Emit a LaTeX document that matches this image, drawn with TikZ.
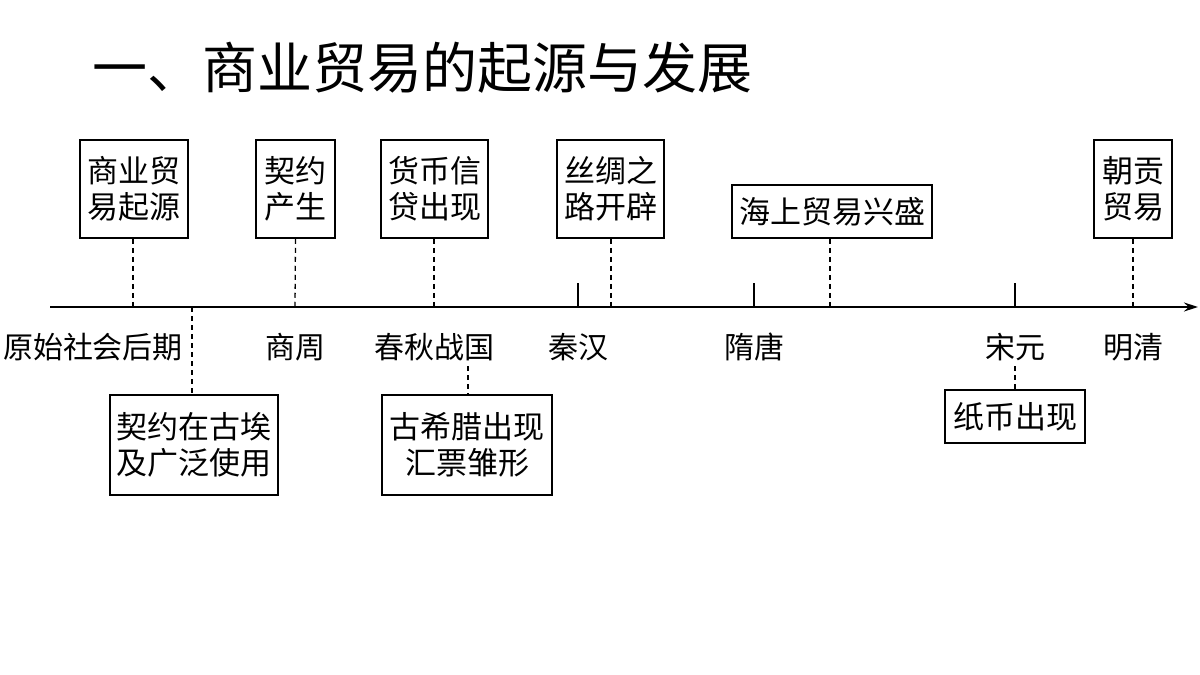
\documentclass[tikz,border=0pt]{standalone}
\usepackage{fontspec}
\setmainfont{Noto Sans CJK SC}
\usetikzlibrary{arrows.meta}
\begin{document}
\begin{tikzpicture}[x=1pt,y=-1pt,
  bx/.style={draw,line width=1.5pt,inner sep=0pt,font=\fontsize{31}{36}\selectfont,align=center},
  lb/.style={font=\fontsize{30}{34}\selectfont,inner sep=0pt},
  dl/.style={dashed,line width=1.3pt,dash pattern=on 5pt off 4pt},
  tk/.style={line width=1.3pt}]
\useasboundingbox (0,0) rectangle (1200,675);
\node[font=\fontsize{55}{62}\selectfont,anchor=west,inner sep=0pt] (title) at (92,68) {一、商业贸易的起源与发展};
\coordinate (a0) at (50,307); \coordinate (a1) at (1198,307);
\draw[line width=1.5pt,-{Stealth[length=14pt,width=9pt]}] (a0) -- (a1);
% top boxes
\node[bx,minimum width=108pt,minimum height=98pt] (b1) at (134,189) {商业贸\\易起源};
\node[bx,minimum width=79pt,minimum height=98pt] (b2) at (295.5,189) {契约\\产生};
\node[bx,minimum width=107pt,minimum height=98pt] (b3) at (434.5,189) {货币信\\贷出现};
\node[bx,minimum width=107pt,minimum height=98pt] (b4) at (610.5,189) {丝绸之\\路开辟};
\node[bx,minimum width=200pt,minimum height=53pt] (b5) at (832,211.5) {海上贸易兴盛};
\node[bx,minimum width=78pt,minimum height=98pt] (b6) at (1133,189) {朝贡\\贸易};
% bottom boxes
\node[bx,minimum width=168pt,minimum height=100pt] (c1) at (194,445) {契约在古埃\\及广泛使用};
\node[bx,minimum width=170pt,minimum height=100pt] (c2) at (467,445) {古希腊出现\\汇票雏形};
\node[bx,minimum width=140pt,minimum height=53pt] (c3) at (1015,416.5) {纸币出现};
% labels
\node[lb] (l1) at (93,347) {原始社会后期};
\node[lb] (l2) at (295,347) {商周};
\node[lb] (l3) at (434,347) {春秋战国};
\node[lb] (l4) at (578,347) {秦汉};
\node[lb] (l5) at (754,347) {隋唐};
\node[lb] (l6) at (1015,347) {宋元};
\node[lb] (l7) at (1133,347) {明清};
% coordinates on axis
\foreach \n/\x in {p1/133,p2/295,p3/434,p4/611,p5/830,p6/1133,q1/192}{\coordinate (\n) at (\x,307);}
\foreach \n/\x in {t1/578,t2/754,t3/1015}{\coordinate (\n) at (\x,307); \coordinate (\n u) at (\x,283);}
\draw[dl] (b1.south -| p1) -- (p1);
\draw[dl] (b2.south) -- (p2);
\draw[dl] (b3.south -| p3) -- (p3);
\draw[dl] (b4.south -| p4) -- (p4);
\draw[dl] (b5.south -| p5) -- (p5);
\draw[dl] (b6.south -| p6) -- (p6);
\draw[tk] (t1) -- (t1u); \draw[tk] (t2) -- (t2u); \draw[tk] (t3) -- (t3u);
\draw[dl] (q1) -- (c1.north -| q1);
\coordinate (r1) at (468,366); \coordinate (r2) at (1015,366);
\draw[dl] (r1) -- (c2.north -| r1);
\draw[dl] (r2) -- (c3.north);
\end{tikzpicture}
\end{document}
